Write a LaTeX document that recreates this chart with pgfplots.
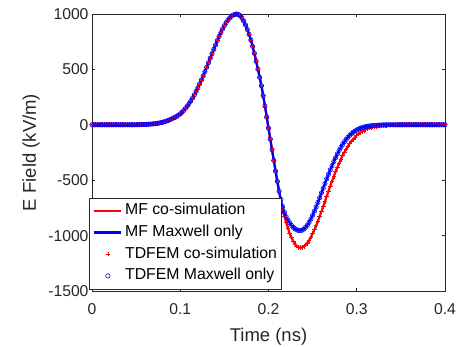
\documentclass[border=0pt]{standalone}
\usepackage{pgfplots}
\pgfplotsset{compat=1.18}
\usepackage{pgfplotstable}
\usepackage{fontspec}
\setmainfont{Liberation Sans}
\definecolor{axgray}{RGB}{38,38,38}
\pgfplotsset{
  lineleg/.style={legend image code/.code={\draw[##1] (0bp,0bp) -- (27bp,0bp);}},
  markleg/.style={legend image code/.code={\path[draw=none,fill=none] (0bp,0bp) -- (27bp,0bp); \draw[##1, only marks] plot coordinates {(13.5bp,0bp)};}},
}
\pgfplotstableread{
t red blue
0.000 0 0
0.002 0 0
0.004 0 0
0.006 0 0
0.008 0 0
0.010 0 0
0.012 0 0
0.014 0 0
0.016 0 0
0.018 0 0
0.020 0 0
0.022 0 0
0.024 0 0
0.026 0 0
0.028 0 0
0.030 0 0
0.032 0 0
0.034 0 0
0.036 0 0
0.038 0 0
0.040 0 0
0.042 0 0
0.044 0 0
0.046 0 0
0.048 0 0
0.050 0 0
0.052 1 1
0.054 1 1
0.056 2 2
0.058 2 2
0.060 3 3
0.062 4 4
0.064 5 5
0.066 6 6
0.068 7 7
0.070 9 9
0.072 11 11
0.074 13 13
0.076 16 16
0.078 19 19
0.080 23 23
0.082 28 28
0.084 33 33
0.086 39 39
0.088 45 45
0.090 52 52
0.092 60 60
0.094 68 68
0.096 76 76
0.098 87 87
0.100 99 99
0.102 114 114
0.104 130 130
0.106 149 149
0.108 169 169
0.110 192 192
0.112 216 216
0.114 243 243
0.116 271 271
0.118 302 302
0.120 334 334
0.122 369 369
0.124 404 404
0.126 442 442
0.128 480 480
0.130 520 520
0.132 560 560
0.134 601 601
0.136 641 641
0.138 681 681
0.140 721 721
0.142 760 760
0.144 797 797
0.146 832 832
0.148 865 865
0.150 895 895
0.152 922 922
0.154 945 945
0.156 964 964
0.158 979 979
0.160 991 991
0.162 997 997
0.164 1000 1000
0.166 995 995
0.168 984 984
0.170 963 963
0.172 936 936
0.174 901 901
0.176 861 861
0.178 816 816
0.180 766 766
0.182 708 708
0.184 645 645
0.186 575 575
0.188 502 502
0.190 428 428
0.192 352 352
0.194 262 262
0.196 170 170
0.198 70 70
0.200 -30 -30
0.202 -128 -128
0.204 -225 -225
0.206 -322 -322
0.208 -418 -418
0.210 -510 -510
0.212 -600 -600
0.214 -685 -673
0.216 -765 -740
0.218 -825 -790
0.220 -880 -830
0.222 -932 -860
0.224 -980 -885
0.226 -1018 -907
0.228 -1050 -925
0.230 -1075 -938
0.232 -1095 -948
0.234 -1105 -953
0.236 -1110 -955
0.238 -1107 -951
0.240 -1098 -942
0.242 -1084 -926
0.244 -1065 -905
0.246 -1042 -880
0.248 -1014 -850
0.250 -982 -817
0.252 -947 -780
0.254 -909 -741
0.256 -869 -700
0.258 -826 -658
0.260 -782 -615
0.262 -736 -572
0.264 -690 -530
0.266 -643 -488
0.268 -597 -447
0.270 -552 -407
0.272 -507 -369
0.274 -465 -332
0.276 -423 -297
0.278 -384 -264
0.280 -346 -232
0.282 -311 -204
0.284 -277 -177
0.286 -247 -153
0.288 -218 -131
0.290 -192 -112
0.292 -168 -95
0.294 -147 -80
0.296 -128 -67
0.298 -111 -57
0.300 -95 -47
0.302 -82 -39
0.304 -69 -32
0.306 -59 -26
0.308 -49 -21
0.310 -42 -17
0.312 -35 -14
0.314 -29 -11
0.316 -24 -9
0.318 -20 -7
0.320 -16 -6
0.322 -13 -5
0.324 -11 -4
0.326 -9 -3
0.328 -7 -2
0.330 -6 -1
0.332 -5 -1
0.334 -4 0
0.336 -3 0
0.338 -2 0
0.340 -2 0
0.342 -1 0
0.344 -1 0
0.346 0 0
0.348 0 0
0.350 0 0
0.352 0 0
0.354 0 0
0.356 0 0
0.358 0 0
0.360 0 0
0.362 0 0
0.364 0 0
0.366 0 0
0.368 0 0
0.370 0 0
0.372 0 0
0.374 0 0
0.376 0 0
0.378 0 0
0.380 0 0
0.382 0 0
0.384 0 0
0.386 0 0
0.388 0 0
0.390 0 0
0.392 0 0
0.394 0 0
0.396 0 0
0.398 0 0
0.400 0 0
}\efield
\begin{document}
\begin{tikzpicture}
\path[use as bounding box] (-92bp,-56bp) rectangle (370bp,291bp);
\begin{axis}[
  at={(0bp,0bp)}, anchor=south west,
  scale only axis, width=353bp, height=277bp,
  xmin=0, xmax=0.4, ymin=-1500, ymax=1000,
  xtick={0,0.1,0.2,0.3,0.4}, xticklabels={0,0.1,0.2,0.3,0.4},
  ytick={-1500,-1000,-500,0,500,1000}, yticklabels={-1500,-1000,-500,0,500,1000},
  /pgf/number format/assume math mode=true,
  tick align=inside, tick pos=both, major tick length=3.5bp,
  axis line style={axgray, line width=0.6bp},
  every tick/.style={axgray, line width=0.6bp},
  tick label style={font=\fontsize{15.7bp}{18bp}\selectfont, text=axgray},
  xticklabel style={yshift=-9.5bp},
  xlabel={Time (ns)}, ylabel={E Field (kV/m)},
  label style={font=\fontsize{18.5bp}{22bp}\selectfont, text=axgray},
  xlabel style={at={(axis description cs:0.5,-0.184)}, anchor=base},
  ylabel style={at={(axis description cs:-0.1728,0.5)}, anchor=center},
  clip=false,
  legend cell align=left,
  legend style={at={(axis description cs:-0.0085,0.0072)}, anchor=south west,
    draw=axgray, line width=0.5bp, fill=white, text=black,
    font=\fontsize{15.8bp}{19bp}\selectfont,
    inner xsep=4bp, inner ysep=5.5bp, row sep=6.9bp, column sep=2.7bp,
    nodes={inner sep=0pt, text height=11.5bp, text depth=3.3bp}},
]
\addplot[red, line width=2.2bp, lineleg] table[x=t, y=red] {\efield};
\addlegendentry{MF co-simulation}
\addplot[blue, line width=2.2bp, lineleg] table[x=t, y=blue] {\efield};
\addlegendentry{MF Maxwell only}
\addplot[red, only marks, mark=+, mark size=2.3bp, mark options={line width=0.6bp}, markleg] table[x=t, y=red] {\efield};
\addlegendentry{TDFEM co-simulation}
\addplot[blue, only marks, mark=o, mark size=2.2bp, mark options={line width=0.6bp}, markleg] table[x=t, y=blue] {\efield};
\addlegendentry{TDFEM Maxwell only}
\end{axis}
\end{tikzpicture}
\end{document}
